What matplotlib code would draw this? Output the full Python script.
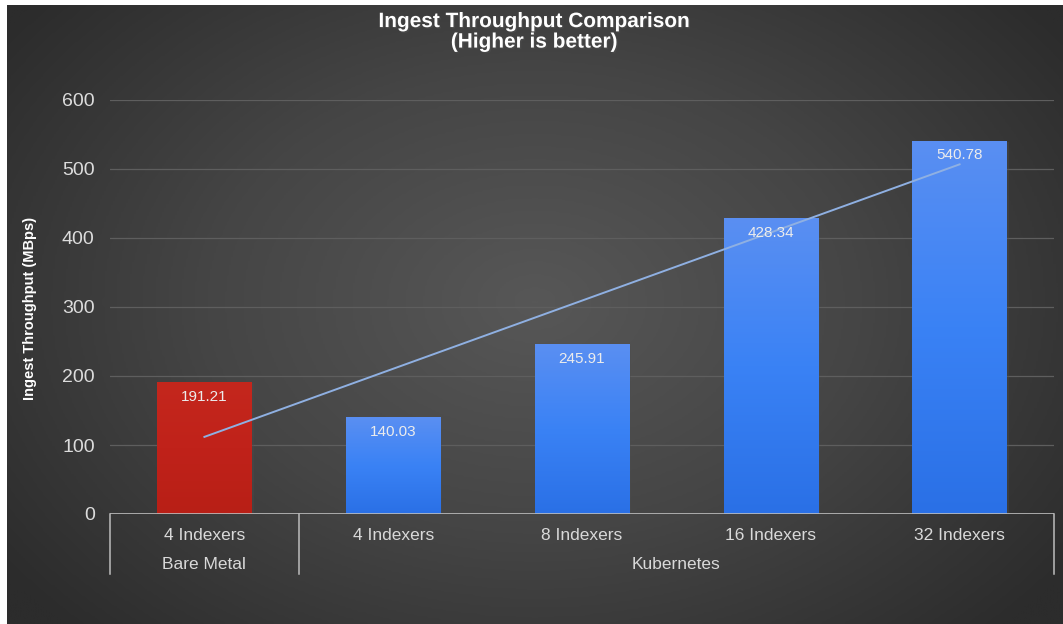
"""Ingest throughput comparison — bare metal vs kubernetes, dark gradient style."""
import numpy as np
import matplotlib
matplotlib.use("Agg")
import matplotlib.pyplot as plt
import matplotlib.patheffects as pe
from matplotlib.colors import LinearSegmentedColormap
import matplotlib.transforms as mtrans

plt.rcParams["font.family"] = ["Liberation Sans", "DejaVu Sans"]

labels = ["4 Indexers", "4 Indexers", "8 Indexers", "16 Indexers", "32 Indexers"]
groups = ["Bare Metal", "Kubernetes", "Kubernetes", "Kubernetes", "Kubernetes"]
values = [191.21, 140.03, 245.91, 428.34, 540.78]
yticks = [0, 100, 200, 300, 400, 500, 600]

W, H = 1063, 624
fig = plt.figure(figsize=(W / 100, H / 100), dpi=100, facecolor="white")

# background: radial gradient, lighter in the middle
bg = fig.add_axes([7 / W, 0, 1 - 7 / W, 1 - 5 / H])
bg.set_axis_off()
yy, xx = np.mgrid[0:1:300j, 0:1:500j]
r = np.sqrt(((xx - 0.5) / 0.62) ** 2 + ((yy - 0.48) / 0.75) ** 2)
r = np.clip(r, 0, 1)
bg_cmap = LinearSegmentedColormap.from_list("bg", ["#575757", "#454545", "#2c2c2c"])
bg.imshow(r, cmap=bg_cmap, aspect="auto", extent=[0, 1, 0, 1], interpolation="bilinear")
bg.set_xlim(0, 1); bg.set_ylim(0, 1)

ax = fig.add_axes([110 / W, 1 - 514 / H, (1054 - 110) / W, (514 - 100) / H])
ax.patch.set_alpha(0)
for s in ax.spines.values():
    s.set_visible(False)

blue = LinearSegmentedColormap.from_list("blue", ["#2a70e6", "#3a82f5", "#5a8ff2"])
red = LinearSegmentedColormap.from_list("red", ["#b81f16", "#c0221a", "#c4271d"])
grad = np.linspace(1, 0, 256).reshape(-1, 1)

x = np.arange(len(values))
for i, v in enumerate(values):
    cmap = red if groups[i] == "Bare Metal" else blue
    bar = ax.bar(x[i], v, width=0.5, color="none", zorder=3,
                 path_effects=[pe.SimplePatchShadow(offset=(1.5, -1), alpha=0.35)])[0]
    im = ax.imshow(grad, extent=[x[i] - 0.25, x[i] + 0.25, 0, v], cmap=cmap,
                   aspect="auto", origin="upper", zorder=3)
    im.set_clip_path(bar)
    ax.annotate(f"{v:.2f}", (x[i], v), xytext=(0, -10.5), textcoords="offset points",
                ha="center", va="center", color="#ececec", fontsize=11, zorder=5)

# linear trendline
k, b = np.polyfit(x, values, 1)
ax.plot([x[0], x[-1]], [k * x[0] + b, k * x[-1] + b], color="#8fb0e2", lw=1.4, zorder=4)

ax.set_xlim(-0.5, len(values) - 0.5)
ax.set_ylim(0, 600)
ax.set_yticks(yticks)
ax.set_yticklabels([str(t) for t in yticks], color="#dcdcdc", fontsize=14)
ax.tick_params(axis="y", length=0, pad=11)
ax.set_xticks([])
ax.grid(axis="y", color="#5e5e5e", lw=0.9, zorder=0)
ax.set_axisbelow(True)
ax.axhline(0, color="#bdbdbd", lw=1.2, zorder=4)

# two-level category axis
tr = mtrans.blended_transform_factory(ax.transData, ax.transAxes)
for i, lab in enumerate(labels):
    ax.text(x[i], -0.052, lab, transform=tr, ha="center", va="center",
            color="#d9d9d9", fontsize=12.5)
bounds = [-0.5]
for i in range(1, len(groups)):
    if groups[i] != groups[i - 1]:
        bounds.append(i - 0.5)
bounds.append(len(groups) - 0.5)
for bx in bounds:
    ax.plot([bx, bx], [0, -0.145], transform=tr, color="#bdbdbd", lw=1.1, clip_on=False)
for lo, hi in zip(bounds[:-1], bounds[1:]):
    ax.text((lo + hi) / 2, -0.123, groups[int(lo + 0.5)], transform=tr, ha="center",
            va="center", color="#d9d9d9", fontsize=12.5)

ax.set_ylabel("Ingest Throughput (MBps)", color="white", fontsize=10.5, fontweight="bold")
ax.yaxis.set_label_coords(-0.077, 0.497)

fig.text(0.503, 0.949, "Ingest Throughput Comparison\n(Higher is better)", ha="center",
         va="center", color="white", fontsize=15, fontweight="bold", linespacing=1.1,
         path_effects=[pe.SimplePatchShadow(offset=(1, -1), alpha=0.7), pe.Normal()])

fig.savefig("out.png", dpi=100, facecolor=fig.get_facecolor())
